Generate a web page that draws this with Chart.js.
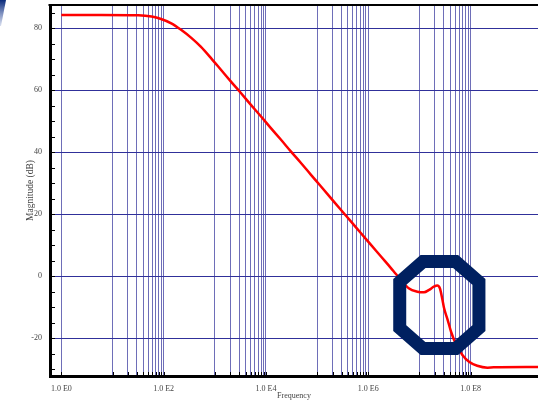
<!DOCTYPE html>
<html>
<head>
<meta charset="utf-8">
<script src="https://cdn.jsdelivr.net/npm/chart.js@4.4.0/dist/chart.umd.min.js"></script>
<style>
  html, body { margin: 0; padding: 0; background: #fff; }
</style>
</head>
<body>
<canvas id="bode" width="538" height="401"></canvas>
<script>
// Datos (frecuencia en Hz, magnitud en dB)
const frecuencias = [1, 6, 32, 58, 89, 141, 219, 347, 537, 851, 1318, 2089, 3236, 5129, 7943,
  1.26e4, 1.95e4, 3.09e4, 4.79e4, 7.59e4, 1.17e5, 1.86e5, 2.88e5, 4.57e5, 7.08e5,
  1.12e6, 1.74e6, 2.75e6, 3.47e6, 4.27e6, 6.17e6, 9.12e6, 1.23e7, 1.55e7, 1.91e7,
  2.24e7, 2.51e7, 2.82e7, 3.02e7, 3.55e7, 4.17e7, 5.13e7, 6.92e7, 9.33e7, 1.35e8,
  2.14e8, 2.82e8, 2.1e9];
const magnitudes = [84.3, 84.3, 84.2, 83.8, 83.0, 81.6, 79.5, 76.9, 74.0, 70.3, 66.6, 62.7, 59.1, 55.2, 51.6,
  47.7, 44.1, 40.2, 36.6, 32.7, 29.1, 25.2, 21.5, 17.7, 14.0,
  10.2, 6.5, 2.7, 0.7, -1.0, -3.9, -5.0, -5.2, -4.4, -3.4,
  -3.0, -3.9, -7.6, -10.2, -14.0, -18.0, -21.8, -25.4, -27.6, -28.9,
  -29.5, -29.4, -29.3];

// Lineas verticales de la grilla y etiquetas del eje X
const xGrilla = [1,
  10, 20, 30, 40, 50, 60, 70, 80, 90, 100,
  1e3, 2e3, 3e3, 4e3, 5e3, 6e3, 7e3, 8e3, 9e3, 1e4,
  1e5, 2e5, 3e5, 4e5, 5e5, 6e5, 7e5, 8e5, 9e5, 1e6,
  1e7, 2e7, 3e7, 4e7, 5e7, 6e7, 7e7, 8e7, 9e7, 1e8];
const xValoresEtiqueta = [1, 1e2, 1e4, 1e6, 1e8];
const xEtiquetas = ["1.0 E0", "1.0 E2", "1.0 E4", "1.0 E6", "1.0 E8"];

// Eje Y
const yTicks = [-20, 0, 20, 40, 60, 80];
const yMenores = [-30, -25, -20, -15, -10, -5, 0, 5, 10, 15, 20, 25, 30, 35, 40, 45, 50, 55, 60, 65, 70, 75, 80, 85];

const fuente = "'Liberation Serif', 'DejaVu Serif', serif";

// Marcas pequenas, borde superior, octagono y esquina
const decoracion = {
  id: "decoracion",
  afterDraw(chart) {
    const ctx = chart.ctx;
    const area = chart.chartArea;
    const x = chart.scales.x;
    const y = chart.scales.y;
    ctx.save();

    // borde superior
    ctx.strokeStyle = "#000";
    ctx.lineWidth = 2;
    ctx.beginPath();
    ctx.moveTo(area.left - 1.5, area.top);
    ctx.lineTo(area.right, area.top);
    ctx.stroke();

    // marcas menores del eje Y (hacia adentro)
    ctx.lineWidth = 1;
    yMenores.forEach(v => {
      const py = Math.round(y.getPixelForValue(v)) + 0.5;
      ctx.beginPath();
      ctx.moveTo(area.left, py);
      ctx.lineTo(area.left + 5, py);
      ctx.stroke();
    });
    // marcas del eje X
    xGrilla.forEach(v => {
      const px = Math.round(x.getPixelForValue(v)) + 0.5;
      ctx.beginPath();
      ctx.moveTo(px, area.bottom);
      ctx.lineTo(px, area.bottom - 4);
      ctx.stroke();
    });

    // octagono
    const cx = x.getPixelForValue(2.45e7);
    const cy = y.getPixelForValue(-9.3);
    const w = 39.6, h = 43.5, a = 16.3, b = 23.1;
    const puntos = [[-a, -h], [a, -h], [w, -b], [w, b], [a, h], [-a, h], [-w, b], [-w, -b]];
    ctx.strokeStyle = "#002060";
    ctx.lineWidth = 13;
    ctx.lineJoin = "miter";
    ctx.beginPath();
    puntos.forEach((p, i) => {
      if (i === 0) ctx.moveTo(cx + p[0], cy + p[1]);
      else ctx.lineTo(cx + p[0], cy + p[1]);
    });
    ctx.closePath();
    ctx.stroke();

    // esquina superior izquierda
    const grad = ctx.createLinearGradient(0, 0, 0, 26);
    grad.addColorStop(0, "#0a2a7a");
    grad.addColorStop(1, "rgba(60,90,170,0.2)");
    ctx.fillStyle = grad;
    ctx.beginPath();
    ctx.moveTo(0, 0);
    ctx.lineTo(6, 0);
    ctx.lineTo(1, 26);
    ctx.lineTo(0, 26);
    ctx.closePath();
    ctx.fill();

    ctx.restore();
  }
};

const canvas = document.getElementById("bode");
const grafico = new Chart(canvas, {
  type: "line",
  data: {
    datasets: [{
      data: frecuencias.map((f, i) => ({ x: f, y: magnitudes[i] })),
      borderColor: "#ff0000",
      borderWidth: 2.5,
      pointRadius: 0,
      cubicInterpolationMode: "monotone",
      fill: false
    }]
  },
  options: {
    responsive: false,
    animation: false,
    layout: { padding: { top: 5, left: 0, right: 0, bottom: 0 } },
    plugins: { legend: { display: false }, tooltip: { enabled: false } },
    scales: {
      x: {
        type: "logarithmic",
        min: 0.638,
        max: 2.08e9,
        afterBuildTicks: s => { s.ticks = xGrilla.map(v => ({ value: v })); },
        afterFit: s => { s.height = 25; s.paddingLeft = 0; s.paddingRight = 0; },
        grid: { color: "#6e6eb8", lineWidth: 1, drawTicks: false },
        border: { display: true, color: "#000", width: 3 },
        ticks: {
          autoSkip: false,
          maxRotation: 0,
          padding: 8,
          color: "#444",
          font: { family: fuente, size: 8 },
          callback: v => {
            const i = xValoresEtiqueta.indexOf(v);
            return i >= 0 ? xEtiquetas[i] : "";
          }
        },
        title: {
          display: true,
          text: "Frequency",
          color: "#444",
          font: { family: fuente, size: 8 },
          padding: { top: -6, bottom: 0 }
        }
      },
      y: {
        min: -32.2,
        max: 87.5,
        afterBuildTicks: s => { s.ticks = yTicks.map(v => ({ value: v })); },
        afterFit: s => { s.width = 50; s.paddingTop = 0; s.paddingBottom = 0; },
        grid: { color: "#30309a", lineWidth: 1, drawTicks: false },
        border: { display: true, color: "#000", width: 3 },
        ticks: {
          padding: 8,
          color: "#444",
          font: { family: fuente, size: 8 }
        },
        title: {
          display: true,
          text: "Magnitude (dB)",
          color: "#444",
          font: { family: fuente, size: 9.5 },
          padding: { top: 25, bottom: 0 }
        }
      }
    }
  },
  plugins: [decoracion]
});
</script>
</body>
</html>
